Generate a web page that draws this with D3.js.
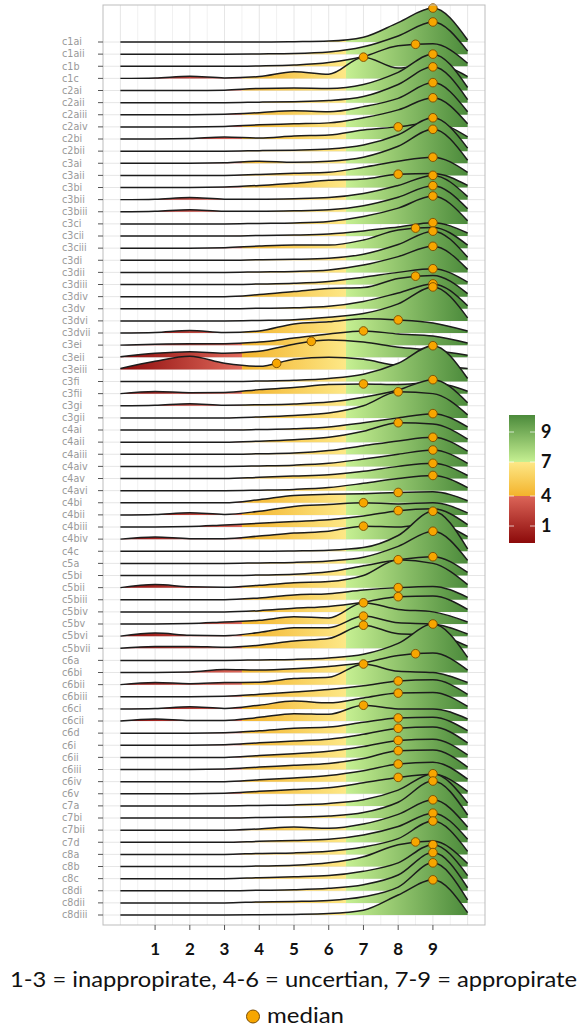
<!DOCTYPE html>
<html>
<head>
<meta charset="utf-8">
<script src="https://cdn.jsdelivr.net/npm/d3@7"></script>
<style>
  body { margin: 0; background: #fff; }
  svg { display: block; }
</style>
</head>
<body>
<svg id="chart" width="583" height="1030"></svg>
<script>
// ---- data -------------------------------------------------------------
const categories = [
  "c1ai", "c1aii", "c1b", "c1c", "c2ai", "c2aii", "c2aiii", "c2aiv", "c2bi", "c2bii",
  "c3ai", "c3aii", "c3bi", "c3bii", "c3biii", "c3ci", "c3cii", "c3ciii", "c3di", "c3dii",
  "c3diii", "c3div", "c3dv", "c3dvi", "c3dvii", "c3ei", "c3eii", "c3eiii", "c3fi", "c3fii",
  "c3gi", "c3gii", "c4ai", "c4aii", "c4aiii", "c4aiv", "c4av", "c4avi", "c4bi", "c4bii",
  "c4biii", "c4biv", "c4c", "c5a", "c5bi", "c5bii", "c5biii", "c5biv", "c5bv", "c5bvi",
  "c5bvii", "c6a", "c6bi", "c6bii", "c6biii", "c6ci", "c6cii", "c6d", "c6i", "c6ii",
  "c6iii", "c6iv", "c6v", "c7a", "c7bi", "c7bii", "c7d", "c8a", "c8b", "c8c",
  "c8di", "c8dii", "c8diii"
];

const ratingGrid = [0, 1, 2, 3, 4, 5, 6, 7, 8, 9, 10];

// density at each rating (1 = one row of height)
const densities = [
  [0, 0, 0, 0, 0, 0.03, 0.08, 0.4, 1.6, 2.8, 0.17],
  [0, 0, 0, 0, 0.02, 0.05, 0.17, 0.6, 1.5, 2.65, 0.25],
  [0, 0, 0, 0, 0.03, 0.1, 0.3, 0.8, 1.7, 1.85, 0.25],
  [0, 0.04, 0.17, 0.04, 0.15, 0.55, 0.35, 1.75, 0.85, 1.2, 0.15],
  [0, 0, 0, 0.03, 0.17, 0.2, 0.17, 0.5, 1.5, 3.0, 0.25],
  [0, 0, 0, 0, 0.04, 0.08, 0.17, 0.5, 1.5, 2.95, 0.25],
  [0, 0, 0, 0.04, 0.17, 0.33, 0.25, 0.67, 1.35, 2.65, 0.25],
  [0, 0, 0, 0.04, 0.17, 0.25, 0.33, 0.75, 1.4, 2.4, 0.25],
  [0, 0, 0.04, 0.17, 0.08, 0.25, 0.33, 0.75, 1.0, 1.35, 0.17],
  [0, 0, 0, 0, 0.04, 0.08, 0.17, 0.5, 1.35, 2.75, 0.25],
  [0, 0, 0, 0.04, 0.17, 0.08, 0.17, 0.5, 1.4, 2.8, 0.25],
  [0, 0, 0, 0, 0.08, 0.17, 0.25, 0.67, 1.17, 1.5, 0.25],
  [0, 0, 0, 0.04, 0.17, 0.35, 0.6, 0.7, 1.1, 1.15, 0.17],
  [0, 0.04, 0.17, 0.04, 0.04, 0.08, 0.17, 0.5, 1.17, 2.0, 0.25],
  [0, 0.04, 0.17, 0.04, 0.04, 0.08, 0.17, 0.5, 1.2, 2.15, 0.25],
  [0, 0, 0, 0, 0.04, 0.08, 0.2, 0.6, 1.3, 2.3, 0.25],
  [0, 0, 0, 0, 0.04, 0.08, 0.17, 0.42, 0.75, 1.1, 0.25],
  [0, 0, 0, 0.04, 0.17, 0.25, 0.25, 0.67, 1.5, 1.7, 0.25],
  [0, 0, 0, 0, 0.04, 0.08, 0.17, 0.5, 1.3, 2.4, 0.25],
  [0, 0, 0, 0, 0.04, 0.08, 0.2, 0.6, 1.3, 2.15, 0.25],
  [0, 0, 0, 0, 0.04, 0.1, 0.25, 0.6, 1.0, 1.3, 0.2],
  [0, 0, 0, 0, 0.17, 0.42, 0.67, 0.75, 1.5, 1.75, 0.25],
  [0, 0, 0, 0, 0.04, 0.08, 0.2, 0.6, 1.3, 2.05, 0.25],
  [0, 0, 0, 0, 0.04, 0.1, 0.3, 0.6, 1.4, 2.8, 0.25],
  [0, 0.04, 0.2, 0.04, 0.17, 0.75, 0.92, 1.17, 1.08, 0.83, 0.17],
  [0, 0.08, 0.12, 0.12, 0.25, 0.58, 0.92, 1.17, 0.92, 0.75, 0.17],
  [0.04, 0.33, 0.46, 0.33, 0.5, 1.08, 1.42, 1.25, 0.83, 0.58, 0.17],
  [0.08, 0.67, 1.08, 0.5, 0.25, 0.83, 1.0, 0.83, 0.33, 0.25, 0.08],
  [0, 0, 0, 0, 0.04, 0.1, 0.25, 0.6, 1.5, 2.95, 0.25],
  [0, 0.17, 0.08, 0.1, 0.33, 0.5, 0.75, 0.8, 0.75, 0.9, 0.2],
  [0, 0.04, 0.17, 0.04, 0.08, 0.15, 0.3, 0.7, 1.3, 2.15, 0.25],
  [0, 0, 0, 0, 0.08, 0.2, 0.4, 1.0, 2.15, 2.0, 0.25],
  [0, 0, 0, 0, 0.04, 0.1, 0.25, 0.6, 1.0, 1.35, 0.25],
  [0, 0, 0, 0, 0.08, 0.2, 0.4, 0.9, 1.6, 1.5, 0.25],
  [0, 0, 0, 0, 0.04, 0.1, 0.3, 0.7, 1.1, 1.4, 0.25],
  [0, 0, 0, 0, 0.04, 0.1, 0.25, 0.6, 1.0, 1.35, 0.25],
  [0, 0, 0, 0, 0.1, 0.2, 0.3, 0.6, 1.0, 1.25, 0.25],
  [0, 0, 0, 0, 0.04, 0.1, 0.25, 0.6, 1.0, 1.25, 0.25],
  [0, 0, 0, 0, 0.25, 0.6, 0.7, 0.75, 0.85, 0.9, 0.17],
  [0, 0.04, 0.17, 0.04, 0.3, 0.7, 0.85, 1.0, 0.9, 1.0, 0.17],
  [0, 0, 0.04, 0.17, 0.3, 0.45, 0.6, 0.9, 1.35, 1.5, 0.2],
  [0, 0.17, 0.04, 0.04, 0.25, 0.5, 0.65, 1.07, 1.0, 1.3, 0.2],
  [0, 0, 0, 0, 0, 0.03, 0.08, 0.3, 1.3, 3.3, 0.2],
  [0, 0, 0, 0, 0.04, 0.08, 0.2, 0.5, 1.4, 2.65, 0.25],
  [0, 0, 0, 0, 0.04, 0.1, 0.3, 0.8, 1.3, 1.55, 0.25],
  [0, 0.25, 0.08, 0.04, 0.2, 0.4, 0.5, 1.0, 2.3, 2.0, 0.25],
  [0, 0, 0, 0, 0.15, 0.4, 0.5, 0.8, 1.0, 1.1, 0.2],
  [0, 0, 0, 0, 0.1, 0.3, 0.45, 0.8, 1.25, 1.3, 0.2],
  [0, 0, 0.04, 0.17, 0.3, 0.6, 0.5, 1.75, 1.2, 1.0, 0.17],
  [0, 0.25, 0.08, 0.04, 0.3, 0.7, 0.7, 1.65, 1.1, 1.0, 0.17],
  [0, 0.15, 0.15, 0.08, 0.25, 0.6, 0.8, 1.9, 1.2, 1.1, 0.17],
  [0, 0, 0, 0, 0.04, 0.08, 0.2, 0.5, 1.4, 3.0, 0.25],
  [0, 0, 0.04, 0.25, 0.2, 0.3, 0.5, 0.8, 1.4, 1.6, 0.2],
  [0, 0.17, 0.08, 0.17, 0.2, 0.5, 0.6, 1.7, 1.1, 1.0, 0.17],
  [0, 0, 0, 0.04, 0.2, 0.4, 0.6, 0.9, 1.3, 1.4, 0.2],
  [0, 0.04, 0.17, 0.04, 0.3, 0.65, 0.5, 0.9, 1.3, 1.35, 0.2],
  [0, 0.17, 0.04, 0.04, 0.3, 0.6, 0.55, 1.3, 1.0, 1.0, 0.17],
  [0, 0, 0, 0.04, 0.2, 0.4, 0.5, 0.9, 1.25, 1.3, 0.2],
  [0, 0, 0, 0.04, 0.2, 0.35, 0.5, 0.9, 1.4, 1.5, 0.2],
  [0, 0, 0, 0, 0.15, 0.3, 0.5, 0.9, 1.4, 1.5, 0.2],
  [0, 0, 0, 0.04, 0.2, 0.35, 0.5, 0.9, 1.55, 1.6, 0.2],
  [0, 0, 0, 0, 0.15, 0.3, 0.5, 0.9, 1.45, 1.6, 0.2],
  [0, 0, 0, 0.04, 0.2, 0.35, 0.5, 0.9, 1.35, 1.6, 0.2],
  [0, 0, 0, 0, 0.04, 0.08, 0.2, 0.5, 1.3, 2.65, 0.25],
  [0, 0, 0, 0, 0.04, 0.08, 0.17, 0.45, 1.3, 3.05, 0.25],
  [0, 0, 0, 0, 0.1, 0.25, 0.15, 0.5, 1.3, 2.5, 0.25],
  [0, 0, 0, 0, 0.08, 0.15, 0.25, 0.6, 1.3, 2.4, 0.25],
  [0, 0, 0, 0, 0.08, 0.12, 0.25, 0.6, 1.3, 2.75, 0.25],
  [0, 0, 0, 0, 0.04, 0.1, 0.3, 0.8, 1.8, 2.1, 0.25],
  [0, 0, 0, 0, 0.08, 0.15, 0.25, 0.6, 1.3, 2.8, 0.25],
  [0, 0, 0, 0, 0.04, 0.08, 0.2, 0.5, 1.3, 3.15, 0.25],
  [0, 0, 0, 0, 0.08, 0.12, 0.2, 0.5, 1.3, 3.3, 0.25],
  [0, 0, 0, 0, 0.02, 0.05, 0.12, 0.4, 1.65, 2.9, 0.2]
];

const medians = [
  9, 9, 8.5, 7, 9, 9, 9, 9, 8, 9,
  9, 9, 8, 9, 9, 9, 9, 8.5, 9, 9,
  9, 8.5, 9, 9, 8, 7, 5.5, 4.5, 9, 7,
  9, 8, 9, 8, 9, 9, 9, 9, 8, 7,
  8, 7, 9, 9, 9, 8, 8, 8, 7, 7,
  7, 9, 8.5, 7, 8, 8, 7, 8, 8, 8,
  8, 8, 8, 9, 9, 9, 9, 9, 8.5, 9,
  9, 9, 9
];

const xTicks = [1, 2, 3, 4, 5, 6, 7, 8, 9];
const legendTicks = [9, 7, 4, 1];

// fill colour along the rating axis: red 0-3.5, yellow 3.5-6.5, green 6.5-10
const colorStops = [
  { v: 0, c: "#8c0a0a" },
  { v: 3.5, c: "#e06a5c" },
  { v: 3.5, c: "#f3b32c" },
  { v: 6.5, c: "#fde887" },
  { v: 6.5, c: "#c6f092" },
  { v: 10, c: "#4b8a3b" }
];
// legend bar puts the zone edges at its 4 and 7 labels
const legendStops = [
  { v: 0, c: "#8c0a0a" },
  { v: 4, c: "#dc6558" },
  { v: 4, c: "#f3b32c" },
  { v: 7, c: "#fde887" },
  { v: 7, c: "#c6f092" },
  { v: 10, c: "#4b8a3b" }
];

const caption = "1-3 = inappropirate, 4-6 = uncertian, 7-9 = appropirate";

// ---- layout -----------------------------------------------------------
const panel = { left: 103, right: 485, top: 5, bottom: 925 };
const fontMain = "Lato, 'Open Sans', sans-serif";

const svg = d3.select("#chart");

const x = d3.scaleLinear().domain([-0.5, 10.5]).range([panel.left, panel.right]);
const y = d3.scalePoint().domain(categories).range([42, 915]);
const h = d3.scaleLinear().domain([0, 1]).range([0, y.step()]);
const legendY = d3.scaleLinear().domain([0, 1, 4, 7, 9, 10]).range([543, 526, 496, 462, 432, 415]);

const defs = svg.append("defs");

const ridgeGrad = defs.append("linearGradient")
  .attr("id", "ridgeGrad")
  .attr("gradientUnits", "userSpaceOnUse")
  .attr("x1", x(0)).attr("x2", x(10))
  .attr("y1", 0).attr("y2", 0);
ridgeGrad.selectAll("stop")
  .data(colorStops)
  .join("stop")
  .attr("offset", (d) => d.v / 10)
  .attr("stop-color", (d) => d.c);

const legendGrad = defs.append("linearGradient")
  .attr("id", "legendGrad")
  .attr("gradientUnits", "userSpaceOnUse")
  .attr("x1", 0).attr("x2", 0)
  .attr("y1", legendY(0)).attr("y2", legendY(10));
legendGrad.selectAll("stop")
  .data(legendStops)
  .join("stop")
  .attr("offset", (d) => (legendY(0) - legendY(d.v)) / (legendY(0) - legendY(10)))
  .attr("stop-color", (d) => d.c);

defs.append("clipPath").attr("id", "panelClip")
  .append("rect")
  .attr("x", panel.left).attr("y", panel.top)
  .attr("width", panel.right - panel.left)
  .attr("height", panel.bottom - panel.top);

// ---- panel + grid -----------------------------------------------------
svg.append("rect")
  .attr("x", panel.left).attr("y", panel.top)
  .attr("width", panel.right - panel.left)
  .attr("height", panel.bottom - panel.top)
  .attr("fill", "#fff");

const grid = svg.append("g");
grid.selectAll("line.v")
  .data(d3.range(0, 10.01, 0.5))
  .join("line")
  .attr("x1", (d) => x(d)).attr("x2", (d) => x(d))
  .attr("y1", panel.top).attr("y2", panel.bottom)
  .attr("stroke", (d) => (Number.isInteger(d) ? "#e6e6e6" : "#f1f1f1"))
  .attr("stroke-width", 1);
grid.selectAll("line.h")
  .data(categories)
  .join("line")
  .attr("x1", panel.left).attr("x2", panel.right)
  .attr("y1", (d) => y(d)).attr("y2", (d) => y(d))
  .attr("stroke", "#e6e6e6")
  .attr("stroke-width", 1);

// ---- ridges -----------------------------------------------------------
const rows = categories.map((name, i) => ({
  name,
  median: medians[i],
  points: ratingGrid.map((v, j) => ({ v, d: densities[i][j] }))
}));

const ridges = svg.append("g").attr("clip-path", "url(#panelClip)");

rows.forEach((row) => {
  const base = y(row.name);
  const area = d3.area()
    .x((p) => x(p.v))
    .y0(base)
    .y1((p) => base - h(p.d))
    .curve(d3.curveMonotoneX);
  const line = d3.line()
    .x((p) => x(p.v))
    .y((p) => base - h(p.d))
    .curve(d3.curveMonotoneX);

  const g = ridges.append("g");
  g.append("path")
    .attr("d", area(row.points))
    .attr("fill", "url(#ridgeGrad)");
  row.outline = g.append("path")
    .attr("d", line(row.points))
    .attr("fill", "none")
    .attr("stroke", "#1c1c1c")
    .attr("stroke-width", 1.5)
    .node();
});

// y of an outline at a given x (outline runs left to right)
function yAtX(pathNode, targetX) {
  let lo = 0;
  let hi = pathNode.getTotalLength();
  for (let k = 0; k < 30; k++) {
    const mid = (lo + hi) / 2;
    if (pathNode.getPointAtLength(mid).x < targetX) lo = mid;
    else hi = mid;
  }
  return pathNode.getPointAtLength((lo + hi) / 2).y;
}

svg.append("g")
  .selectAll("circle")
  .data(rows)
  .join("circle")
  .attr("cx", (d) => x(d.median))
  .attr("cy", (d) => yAtX(d.outline, x(d.median)))
  .attr("r", 4.3)
  .attr("fill", "#f7a600")
  .attr("stroke", "#7a4c00")
  .attr("stroke-width", 0.9);

// panel border
svg.append("rect")
  .attr("x", panel.left).attr("y", panel.top)
  .attr("width", panel.right - panel.left)
  .attr("height", panel.bottom - panel.top)
  .attr("fill", "none")
  .attr("stroke", "#bdbdbd")
  .attr("stroke-width", 1);

// ---- axes -------------------------------------------------------------
const yAxis = svg.append("g");
yAxis.selectAll("line")
  .data(categories)
  .join("line")
  .attr("x1", panel.left - 5).attr("x2", panel.left)
  .attr("y1", (d) => y(d)).attr("y2", (d) => y(d))
  .attr("stroke", "#555")
  .attr("stroke-width", 1);
yAxis.selectAll("text")
  .data(categories)
  .join("text")
  .attr("x", 62)
  .attr("y", (d) => y(d))
  .attr("dy", "0.35em")
  .attr("font-family", "'DejaVu Sans', sans-serif")
  .attr("font-size", 9.6)
  .attr("fill", "#999")
  .text((d) => d);

const xAxis = svg.append("g");
xAxis.selectAll("line")
  .data(xTicks)
  .join("line")
  .attr("x1", (d) => x(d)).attr("x2", (d) => x(d))
  .attr("y1", panel.bottom).attr("y2", panel.bottom + 5)
  .attr("stroke", "#555")
  .attr("stroke-width", 1);
xAxis.selectAll("text")
  .data(xTicks)
  .join("text")
  .attr("x", (d) => x(d))
  .attr("y", 955)
  .attr("text-anchor", "middle")
  .attr("font-family", fontMain)
  .attr("font-weight", 700)
  .attr("font-size", 17)
  .attr("fill", "#111")
  .text((d) => d);

svg.append("text")
  .attr("x", 10)
  .attr("y", 987)
  .attr("font-family", fontMain)
  .attr("font-size", 21)
  .attr("fill", "#111")
  .attr("textLength", 567)
  .attr("lengthAdjust", "spacingAndGlyphs")
  .text(caption);

// ---- legends ----------------------------------------------------------
const legend = svg.append("g");
legend.append("rect")
  .attr("x", 509).attr("y", legendY(10))
  .attr("width", 26)
  .attr("height", legendY(0) - legendY(10))
  .attr("fill", "url(#legendGrad)");
legendTicks.forEach((t) => {
  legend.append("line")
    .attr("x1", 509).attr("x2", 514)
    .attr("y1", legendY(t)).attr("y2", legendY(t))
    .attr("stroke", "#fff").attr("stroke-opacity", 0.7);
  legend.append("line")
    .attr("x1", 530).attr("x2", 535)
    .attr("y1", legendY(t)).attr("y2", legendY(t))
    .attr("stroke", "#fff").attr("stroke-opacity", 0.7);
});
legend.selectAll("text")
  .data(legendTicks)
  .join("text")
  .attr("x", 541)
  .attr("y", (d) => legendY(d))
  .attr("dy", "0.36em")
  .attr("font-family", fontMain)
  .attr("font-weight", 700)
  .attr("font-size", 18)
  .attr("fill", "#111")
  .text((d) => d);

svg.append("circle")
  .attr("cx", 253).attr("cy", 1016.5)
  .attr("r", 6.5)
  .attr("fill", "#f7a600")
  .attr("stroke", "#7a4c00")
  .attr("stroke-width", 1);
svg.append("text")
  .attr("x", 267)
  .attr("y", 1023)
  .attr("font-family", fontMain)
  .attr("font-size", 22)
  .attr("fill", "#111")
  .attr("textLength", 77)
  .attr("lengthAdjust", "spacingAndGlyphs")
  .text("median");
</script>
</body>
</html>
